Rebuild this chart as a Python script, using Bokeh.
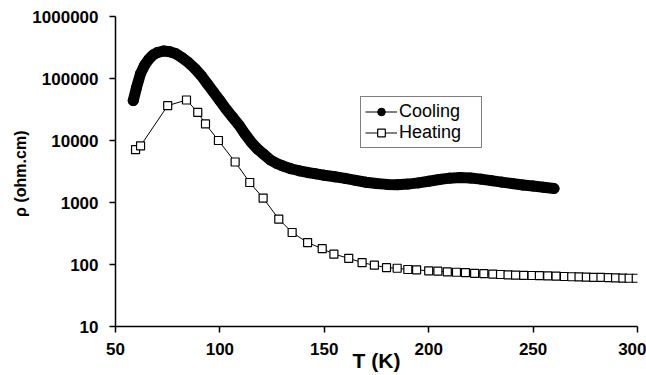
import numpy as np
from bokeh.plotting import figure
from bokeh.models import FixedTicker, Legend, LegendItem
from bokeh.embed import file_html
from bokeh.resources import INLINE

# Cooling series (T in K, resistivity in ohm.cm)
cool_T = [58.5, 60, 62, 64, 66, 68, 70, 73, 76, 79, 82, 85, 88, 91, 94, 97,
          100, 103, 106, 109, 112, 115, 118, 121, 124, 127, 130, 134, 138,
          142, 146, 150, 155, 160, 165, 170, 175, 180, 185, 190, 195, 200,
          205, 210, 215, 220, 225, 230, 235, 240, 245, 250, 255, 260]
cool_rho = [44000, 70000, 120000, 165000, 205000, 240000, 262000, 278000,
            270000, 250000, 215000, 180000, 145000, 112000, 82000, 60000,
            44000, 32000, 24000, 18000, 12800, 9400, 7300, 6000, 4900, 4300,
            3900, 3500, 3250, 3050, 2900, 2750, 2600, 2450, 2280, 2120, 2020,
            1960, 1940, 1980, 2070, 2200, 2350, 2470, 2520, 2480, 2380, 2250,
            2130, 2020, 1920, 1840, 1760, 1680]

# Heating series
heat_T = [59.6, 62, 75, 84, 89.4, 93.1, 99.3, 107.3, 114.3, 120.7, 128.2,
          134.6, 142, 149, 154.6, 161.7, 168.1, 174, 179.8, 184.9, 190, 194.2,
          200, 204.4, 208.9, 213.3, 217.6, 222, 226.4, 230.7, 234.4, 238,
          241.6, 245.5, 249.5, 253, 257, 261, 265, 268.5, 272, 275.5, 279,
          282.5, 286, 289.5, 293, 296, 299.4]
heat_rho = [7100, 8200, 36500, 45000, 28400, 18500, 10000, 4500, 2100, 1180,
            540, 328, 226, 180, 147, 126, 107, 97.5, 89, 87, 83, 82, 79, 78,
            76, 75, 74, 72, 71, 70, 69, 68, 67.5, 67, 66.5, 66, 65.5, 65, 64,
            63.5, 63, 62.5, 62, 62, 61.5, 61, 60.5, 60, 60]

x_ticks = [50, 100, 150, 200, 250, 300]
y_ticks = [10, 100, 1000, 10000, 100000, 1000000]
y_tick_labels = ["10", "100", "1000", "10000", "100000", "1000000"]

FONT = "Liberation Sans"

p = figure(width=646, height=375, x_range=(50, 300), y_range=(10, 1e6),
           y_axis_type="log", output_backend="svg", toolbar_location=None,
           min_border_left=115, min_border_right=9, min_border_top=16,
           min_border_bottom=49, background_fill_color="white",
           border_fill_color="white")
p.outline_line_color = None
p.xgrid.grid_line_color = None
p.ygrid.grid_line_color = None

p.xaxis.ticker = FixedTicker(ticks=x_ticks)
p.yaxis.ticker = FixedTicker(ticks=y_ticks)
p.yaxis.major_label_overrides = {float(t): s for t, s in zip(y_ticks, y_tick_labels)}

for ax in (p.xaxis, p.yaxis):
    ax.axis_line_color = "black"
    ax.axis_line_width = 1.5
    ax.major_tick_line_color = "black"
    ax.major_tick_line_width = 1.5
    ax.major_tick_out = 6
    ax.major_tick_in = 0
    ax.minor_tick_line_color = None
    ax.major_label_text_font = FONT
    ax.major_label_text_font_style = "bold"
    ax.major_label_text_font_size = "17px"
    ax.major_label_text_color = "black"
    ax.axis_label_text_font = FONT
    ax.axis_label_text_font_style = "bold"
    ax.axis_label_text_color = "black"
p.yaxis.major_label_standoff = 11
p.xaxis.major_label_standoff = 10

p.xaxis.axis_label = "T (K)"
p.xaxis.axis_label_text_font_size = "21px"
p.xaxis.axis_label_standoff = -9

p.yaxis.axis_label = "ρ  (ohm.cm)"
p.yaxis.axis_label_text_font_size = "16px"
p.yaxis.axis_label_standoff = 0

# Cooling: dense filled circles forming a thick band
p.line(cool_T, cool_rho, line_width=11, line_color="black",
       line_join="round", line_cap="round")
cool_pts = p.scatter(cool_T, cool_rho, marker="circle", size=10,
                     fill_color="black", line_color="black")

# Heating: thin line with open squares
heat_line = p.line(heat_T, heat_rho, line_width=1, line_color="black")
heat_pts = p.scatter(heat_T, heat_rho, marker="square", size=8,
                     fill_color="white", line_color="black", line_width=1.2)

legend = Legend(items=[LegendItem(label="Cooling", renderers=[heat_line, cool_pts]),
                       LegendItem(label="Heating", renderers=[heat_line, heat_pts])],
                location=(245, 178), border_line_color="black",
                border_line_width=1, background_fill_color="white",
                padding=4, spacing=0, margin=0, glyph_width=32,
                glyph_height=19, label_height=19, label_width=78,
                label_standoff=2, label_text_font=FONT,
                label_text_font_size="18px", label_text_color="black")
p.add_layout(legend)

open("out.html", "w").write(file_html(p, INLINE))
